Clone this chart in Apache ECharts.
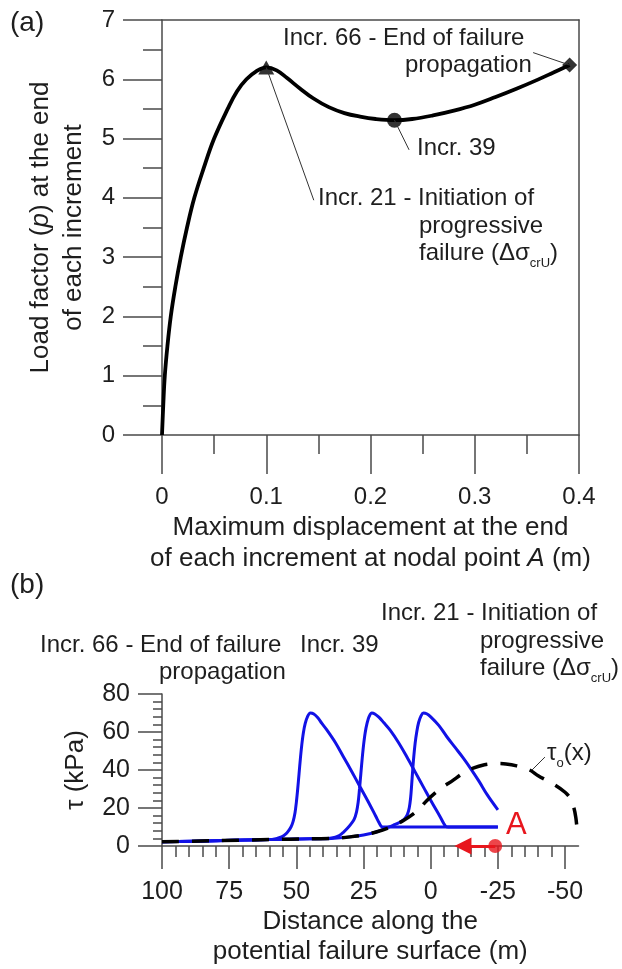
<!DOCTYPE html>
<html><head><meta charset="utf-8">
<script src="https://cdn.jsdelivr.net/npm/echarts@6/dist/echarts.min.js"></script>
<style>html,body{margin:0;padding:0;background:#fff}#c{width:622px;height:969px}</style>
</head><body><div id="c"></div>
<script>
// ---------- Panel (a): load factor vs maximum displacement ----------
const dispA = [0, 0.0012, 0.0027, 0.0052, 0.0084, 0.0128, 0.018, 0.024, 0.031, 0.040, 0.050, 0.063, 0.072, 0.081, 0.090, 0.100, 0.110, 0.120, 0.132, 0.145, 0.160, 0.175, 0.190, 0.205, 0.223, 0.240, 0.260, 0.280, 0.300, 0.320, 0.340, 0.360, 0.375, 0.391];
const loadA = [0, 0.5, 1, 1.5, 2, 2.5, 3, 3.5, 4, 4.5, 5, 5.5, 5.8, 6.0, 6.13, 6.2, 6.15, 6.02, 5.85, 5.68, 5.53, 5.43, 5.37, 5.33, 5.31, 5.33, 5.39, 5.47, 5.57, 5.70, 5.84, 5.99, 6.11, 6.24];
const keyIncrements = ['Incr. 21', 'Incr. 39', 'Incr. 66'];
const keyDisp = [0.1, 0.223, 0.391];
const keyLoad = [6.2, 5.31, 6.24];
const keySymbols = ['triangle', 'circle', 'diamond'];
// leader-line ends (data units) for the annotations of panel (a)
const leaderEndDispA = [0.1456, 0.237, 0.356];
const leaderEndLoadA = [3.96, 4.81, 6.45];

// ---------- Panel (b): shear stress along the failure surface ----------
const distTau0 = [100, 80, 60, 45, 37, 30, 25, 20, 15, 10, 5, 1.4, -3, -8.4, -12, -15.8, -20, -24, -28, -32, -36.8, -40, -46, -50, -52, -53.3, -54, -54.4];
const tau0     = [2.2, 2.8, 3.4, 3.8, 4.0, 4.8, 5.8, 7.5, 10, 13.5, 18.5, 24, 29.5, 34.7, 38.3, 41, 42.8, 43.4, 43.2, 42.2, 40, 37, 32.3, 28.3, 25, 20, 15, 10];

const dist66 = [100, 80, 60, 57.5, 55.5, 54, 53, 52, 51.2, 50.5, 50, 49.5, 49, 48.5, 48, 47.4, 46.7, 45.8, 44.8, 43.5, 42, 40.5, 38.6, 35.5, 32.5, 29.4, 26.3, 23.2, 20.5, 19.2, 18.4, 17.5, 10, 0, -10, -25];
const tau66  = [2.2, 2.8, 3.4, 3.9, 4.8, 6.2, 7.8, 10, 13, 17.5, 23, 30, 38, 46, 53, 59.5, 64.5, 68.2, 70, 69.5, 67.5, 64.5, 61, 54.5, 47, 39.2, 31.2, 23.2, 15.8, 12.2, 10.3, 10, 10, 10, 10, 10];

const dist39 = [100, 80, 60, 45, 40, 37.5, 35.5, 34, 32.5, 31, 29.7, 28.5, 27.6, 27, 26.5, 26, 25.5, 25, 24.4, 23.7, 22.9, 21.9, 20.8, 19.3, 17.5, 15.1, 12, 8.9, 5.8, 2.7, -0.4, -3.5, -4.8, -5.6, -6.5, -15, -25];
const tau39  = [2.2, 2.8, 3.4, 3.8, 3.9, 4.1, 4.6, 5.5, 7.2, 9.3, 11.5, 14, 18, 23, 30, 38, 46, 53, 59.5, 64.5, 68.2, 70, 69.5, 67.8, 65, 61, 54.5, 47, 39, 31, 23, 15.4, 12, 10.3, 10, 10, 10];

const dist21 = [100, 80, 60, 45, 37, 30, 25, 20, 17, 14, 11.5, 9.8, 8.7, 8, 7.5, 7.1, 6.7, 6.3, 5.8, 5.2, 4.5, 3.6, 2.7, 1.5, 0, -3, -6, -9, -12, -15, -18, -21, -25];
const tau21  = [2.2, 2.8, 3.4, 3.8, 4.0, 4.8, 5.8, 7.5, 9.2, 10.9, 12.5, 14.2, 16.5, 20, 25, 32, 40, 47, 54, 60, 65, 68.5, 70, 69.6, 68, 63.5, 57.5, 52, 46.5, 40.5, 34, 27, 19];

const pointA = [-24, 0];
const arrowEndA = [-12, 0];
const xTicksB = [100, 75, 50, 25, 0, -25, -50];
const xMinorTicksB = [100, 95, 90, 85, 80, 75, 70, 65, 60, 55, 50, 45, 40, 35, 30, 25, 20, 15, 10, 5, 0, -5, -10, -15, -20, -25, -30, -35, -40, -45, -50];
// leader lines in panel (b): [from] peak -> [to] label (data units)
const leaderFromB = [[44.8, 70], [21.9, 70], [2.7, 70], [-37.7, 40]];
const leaderToB   = [[64.9, 83.7], [32.6, 101.6], [-3.5, 114.7], [-42.5, 46.8]];

// ---------- styling ----------
const FONT = '"Liberation Sans", Arial, sans-serif';
const TXT = '#1e1e1e';
const AX = '#4a4a4a';
const BLUE = '#1212e6';
const RED = '#e8161d';

const zip = (a, b) => a.map((v, i) => [v, b[i]]);
const axLine = { show: true, onZero: false, lineStyle: { color: AX, width: 1.5 } };
const tickStyle = { color: AX, width: 1.5 };

function label(x, y, text, size, extra) {
  return {
    type: 'text', x: x, y: y, silent: true, z: 50,
    style: Object.assign({
      text: text, fill: TXT, fontSize: size, fontFamily: FONT,
      align: 'left', verticalAlign: 'middle', lineHeight: 34,
      rich: {
        sub: { fontSize: 13, fontFamily: FONT, fill: TXT, verticalAlign: 'bottom', lineHeight: 16 }
      }
    }, extra || {})
  };
}

const chart = echarts.init(document.getElementById('c'));

const option = {
  animation: false,
  backgroundColor: '#fff',
  textStyle: { fontFamily: FONT },
  grid: [
    { left: 162, right: 43, top: 20, height: 415 },
    { left: 162, right: 43.5, top: 694, height: 152 }
  ],
  xAxis: [
    { // panel a bottom
      gridIndex: 0, type: 'value', min: 0, max: 0.4, interval: 0.1, position: 'bottom',
      axisLine: axLine,
      axisTick: { show: true, length: 39, lineStyle: tickStyle },
      minorTick: { show: true, splitNumber: 2, length: 19, lineStyle: tickStyle },
      splitLine: { show: false }, minorSplitLine: { show: false },
      axisLabel: { fontSize: 24, color: TXT, margin: 50, fontFamily: FONT,
        formatter: v => v === 0 ? '0' : String(+v.toFixed(2)) },
      name: 'Maximum displacement at the end\nof each increment at nodal point {i|A} (m)',
      nameLocation: 'middle', nameGap: 77,
      nameTextStyle: { fontSize: 26, color: TXT, lineHeight: 31, fontFamily: FONT,
        rich: { i: { fontStyle: 'italic', fontSize: 26, fontFamily: FONT, color: TXT, lineHeight: 31 } } }
    },
    { // panel a top frame
      gridIndex: 0, type: 'value', min: 0, max: 0.4, position: 'top',
      axisLine: axLine, axisTick: { show: false }, axisLabel: { show: false }, splitLine: { show: false }
    },
    { // panel b main
      gridIndex: 1, type: 'value', min: -55, max: 100, inverse: true, position: 'bottom',
      axisLine: axLine,
      axisTick: { show: true, length: 23, lineStyle: tickStyle, customValues: xTicksB },
      axisLabel: { fontSize: 25, color: TXT, margin: 34, fontFamily: FONT, customValues: xTicksB },
      splitLine: { show: false },
      name: 'Distance along the\npotential failure surface (m)',
      nameLocation: 'middle', nameGap: 61,
      nameTextStyle: { fontSize: 26, color: TXT, lineHeight: 30, fontFamily: FONT }
    },
    { // panel b minor ticks
      gridIndex: 1, type: 'value', min: -55, max: 100, inverse: true, position: 'bottom',
      axisLine: { show: false, onZero: false },
      axisTick: { show: true, length: 11, lineStyle: tickStyle, customValues: xMinorTicksB },
      axisLabel: { show: false }, splitLine: { show: false }
    }
  ],
  yAxis: [
    {
      gridIndex: 0, type: 'value', min: 0, max: 7, interval: 1, position: 'left',
      axisLine: axLine,
      axisTick: { show: true, length: 39, lineStyle: tickStyle },
      minorTick: { show: true, splitNumber: 2, length: 19, lineStyle: tickStyle },
      splitLine: { show: false }, minorSplitLine: { show: false },
      axisLabel: { fontSize: 24, color: TXT, margin: 47, fontFamily: FONT },
      name: 'Load factor ({i|p}) at the end\nof each increment',
      nameLocation: 'middle', nameGap: 63, nameRotate: 90,
      nameTextStyle: { fontSize: 26, color: TXT, lineHeight: 33, fontFamily: FONT,
        rich: { i: { fontStyle: 'italic', fontSize: 26, fontFamily: FONT, color: TXT, lineHeight: 33 } } }
    },
    {
      gridIndex: 0, type: 'value', min: 0, max: 7, position: 'right',
      axisLine: axLine, axisTick: { show: false }, axisLabel: { show: false }, splitLine: { show: false }
    },
    {
      gridIndex: 1, type: 'value', min: 0, max: 80, interval: 20, position: 'left',
      axisLine: axLine,
      axisTick: { show: true, length: 24, lineStyle: tickStyle },
      minorTick: { show: true, splitNumber: 5, length: 9, lineStyle: tickStyle },
      splitLine: { show: false }, minorSplitLine: { show: false },
      axisLabel: { fontSize: 25, color: TXT, margin: 32, fontFamily: FONT },
      name: 'τ (kPa)', nameLocation: 'middle', nameGap: 64, nameRotate: 90,
      nameTextStyle: { fontSize: 26, color: TXT, lineHeight: 30, fontFamily: FONT }
    }
  ],
  series: [
    {
      type: 'line', xAxisIndex: 0, yAxisIndex: 0, data: zip(dispA, loadA),
      smooth: 0.4, symbol: 'none', lineStyle: { color: '#000', width: 3.8 }, silent: true
    },
    {
      type: 'scatter', xAxisIndex: 0, yAxisIndex: 0, clip: false, silent: true,
      data: keyDisp.map((d, i) => ({ name: keyIncrements[i], value: [d, keyLoad[i]], symbol: keySymbols[i],
        symbolSize: keySymbols[i] === 'triangle' ? [16, 14] : 15 })),
      itemStyle: { color: '#000' },
      markLine: {
        silent: true, symbol: ['none', 'none'], label: { show: false },
        lineStyle: { color: '#333', width: 1, type: 'solid' },
        data: keyDisp.map((d, i) => [{ coord: [d, keyLoad[i]] }, { coord: [leaderEndDispA[i], leaderEndLoadA[i]] }])
      }
    },
    {
      type: 'line', xAxisIndex: 2, yAxisIndex: 2, data: zip(dist66, tau66),
      smooth: 0.35, symbol: 'none', lineStyle: { color: BLUE, width: 3 }, silent: true
    },
    {
      type: 'line', xAxisIndex: 2, yAxisIndex: 2, data: zip(dist39, tau39),
      smooth: 0.35, symbol: 'none', lineStyle: { color: BLUE, width: 3 }, silent: true
    },
    {
      type: 'line', xAxisIndex: 2, yAxisIndex: 2, data: zip(dist21, tau21),
      smooth: 0.35, symbol: 'none', lineStyle: { color: BLUE, width: 3 }, silent: true
    },
    {
      type: 'line', xAxisIndex: 2, yAxisIndex: 2, data: zip(distTau0, tau0), clip: false,
      smooth: 0.3, symbol: 'none', lineStyle: { color: '#000', width: 3.5, type: [17, 13] }, silent: true,
      markLine: {
        silent: true, symbol: ['none', 'none'], label: { show: false },
        lineStyle: { color: '#333', width: 1, type: 'solid' },
        data: leaderFromB.map((p, i) => [{ coord: p }, { coord: leaderToB[i] }])
      }
    },
    {
      type: 'scatter', xAxisIndex: 2, yAxisIndex: 2, clip: false, silent: true,
      data: [pointA], symbol: 'circle', symbolSize: 14, itemStyle: { color: RED },
      markLine: {
        silent: true, symbol: ['none', 'triangle'], symbolSize: 17, label: { show: false },
        lineStyle: { color: RED, width: 3, type: 'solid' },
        data: [[{ coord: pointA }, { coord: arrowEndA }]]
      }
    }
  ],
  graphic: [
    label(10, 23, '(a)', 28),
    label(283, 38, 'Incr. 66 - End of failure', 24),
    label(405, 65, 'propagation', 24),
    label(417, 148, 'Incr. 39', 24),
    label(318, 198, 'Incr. 21 - Initiation of', 24),
    label(419, 226, 'progressive', 24),
    label(419, 253, 'failure (Δσ{sub|crU})', 24),
    label(10, 585, '(b)', 28),
    label(40, 645, 'Incr. 66 - End of failure', 24),
    label(300, 645, 'Incr. 39', 24),
    label(159, 672, 'propagation', 24),
    label(381, 613, 'Incr. 21 - Initiation of', 24),
    label(480, 641, 'progressive', 24),
    label(480, 668, 'failure (Δσ{sub|crU})', 24),
    label(547, 753, 'τ{sub|o}(x)', 24),
    label(506, 825, 'A', 31, { fill: RED })
  ]
};
chart.setOption(option);
</script>
</body></html>
